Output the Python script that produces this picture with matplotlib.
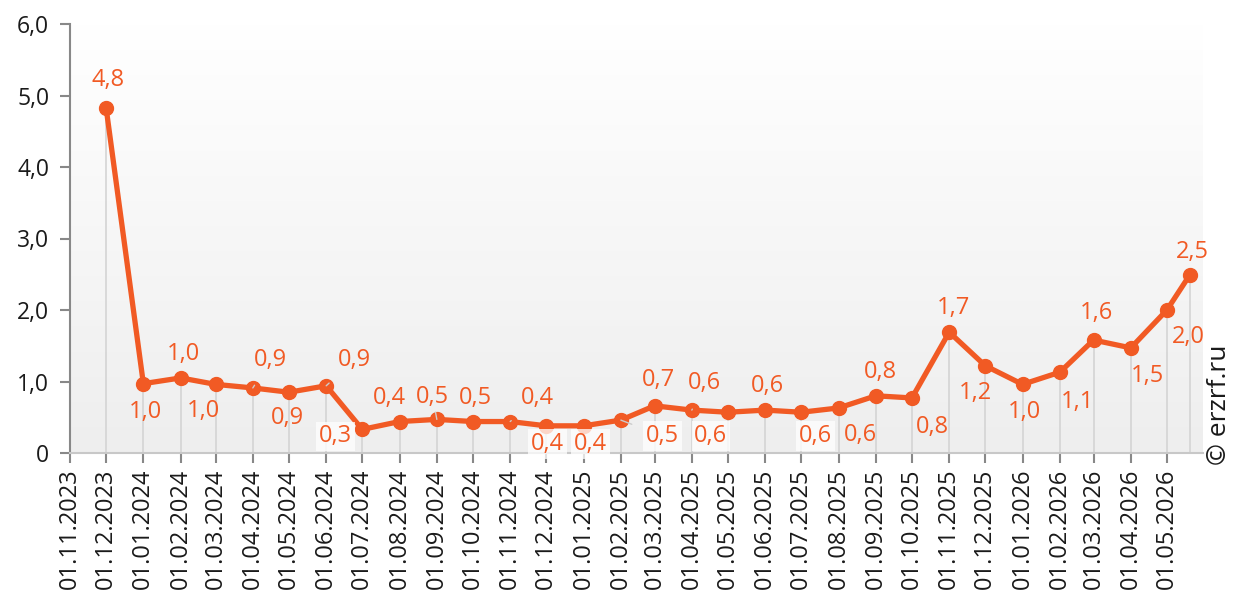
import numpy as np
import pandas as pd
import matplotlib
matplotlib.use('Agg')
import matplotlib.pyplot as plt
import matplotlib.dates as mdates

plt.rcParams['font.family'] = ['Open Sans', 'DejaVu Sans']

# data
dates = pd.to_datetime([
    '2023-12-01', '2024-01-01', '2024-02-01', '2024-03-01', '2024-04-01',
    '2024-05-01', '2024-06-01', '2024-07-01', '2024-08-01', '2024-09-01',
    '2024-10-01', '2024-11-01', '2024-12-01', '2025-01-01', '2025-02-01',
    '2025-03-01', '2025-04-01', '2025-05-01', '2025-06-01', '2025-07-01',
    '2025-08-01', '2025-09-01', '2025-10-01', '2025-11-01', '2025-12-01',
    '2026-01-01', '2026-02-01', '2026-03-01', '2026-04-01', '2026-05-01',
    '2026-05-20'])
values = [4.83, 0.97, 1.05, 0.96, 0.91, 0.85, 0.94, 0.33, 0.44, 0.47,
          0.44, 0.44, 0.38, 0.38, 0.46, 0.66, 0.60, 0.57, 0.60, 0.57,
          0.63, 0.80, 0.77, 1.69, 1.22, 0.96, 1.13, 1.58, 1.47, 2.00,
          2.49]
labels = ['4,8', '1,0', '1,0', '1,0', '0,9', '0,9', '0,9', '0,3', '0,4', '0,5',
          '0,5', '0,4', '0,4', '0,4', '0,5', '0,7', '0,6', '0,6', '0,6', '0,6',
          '0,6', '0,8', '0,8', '1,7', '1,2', '1,0', '1,1', '1,6', '1,5', '2,0',
          '2,5']
# label offsets in pixels, leader line flag, white box flag
offsets = [(2, 28), (2, -28), (3, 24), (-12, -27), (18, 28), (-1, -26),
           (28, 26), (-27, -7), (-10, 24), (-4, 22), (3, 24), (27, 24),
           (1, -18), (7, -18), (42, -16), (4, 26), (13, 27), (-17, -24),
           (2, 24), (14, -24), (22, -27), (5, 24), (21, -29), (4, 24),
           (-10, -27), (2, -28), (18, -30), (3, 27), (17, -28), (21, -27),
           (3, 23)]
leaders = {4, 6, 9, 11, 14, 16}
boxed = {7, 12, 13, 14, 17, 19}

orange = '#F15A24'

fig = plt.figure(figsize=(12.34, 5.98), dpi=100)
ax = fig.add_axes([70 / 1234, 1 - 453 / 598, (1203 - 70) / 1234, (453 - 24) / 598])

x0 = pd.Timestamp('2023-11-01')
x1 = pd.Timestamp('2026-05-31')
ax.set_xlim(x0, x1)
ax.set_ylim(0, 6)

# gradient background
grad = np.linspace(1, 0, 256).reshape(-1, 1)
ax.imshow(grad, extent=[mdates.date2num(x0), mdates.date2num(x1), 0, 6],
          aspect='auto', cmap=matplotlib.colors.LinearSegmentedColormap.from_list(
              'bg', ['#eeeeee', '#ffffff']), zorder=0)

ax.vlines(dates, 0, values, color='#d4d4d4', lw=1.2, zorder=1)
ax.plot(dates, values, color=orange, lw=3.8, marker='o', ms=10, zorder=3,
        solid_capstyle='round')

for i, (d, v, t) in enumerate(zip(dates, values, labels)):
    dx, dy = offsets[i]
    kw = {}
    if i in leaders:
        kw['arrowprops'] = dict(arrowstyle='-', color='#cccccc', lw=1,
                                shrinkA=9, shrinkB=0)
    if i in boxed:
        kw['bbox'] = dict(boxstyle='square,pad=0.12', fc='white', ec='none', alpha=0.75)
    ax.annotate(t, (d, v), xytext=(dx, dy), textcoords='offset pixels',
                ha='center', va='center', color=orange, fontsize=17, zorder=4, **kw)

ax.xaxis.set_major_locator(mdates.MonthLocator())
ax.xaxis.set_major_formatter(mdates.DateFormatter('%d.%m.%Y'))
ax.set_yticks(range(7))
ax.set_yticklabels(['0', '1,0', '2,0', '3,0', '4,0', '5,0', '6,0'])
for lab in ax.get_xticklabels():
    lab.set_rotation(90)
ax.tick_params(axis='x', labelsize=17, colors='#888888', labelcolor='#1a1a1a',
               length=7, width=1.5, pad=4)
ax.tick_params(axis='y', labelsize=16.5, colors='#888888', labelcolor='#1a1a1a',
               length=7, width=1.5, pad=8)
for s in ['top', 'right']:
    ax.spines[s].set_visible(False)
for s in ['left', 'bottom']:
    ax.spines[s].set_color('#c8c8c8')
    ax.spines[s].set_linewidth(1.5)
ax.spines['left'].set_color('#888888')

fig.text(1220 / 1234, 1 - 405 / 598, '© erzrf.ru', rotation=90, ha='center',
         va='center', fontsize=19, color='#1a1a1a')

fig.savefig('out.png', dpi=100)
